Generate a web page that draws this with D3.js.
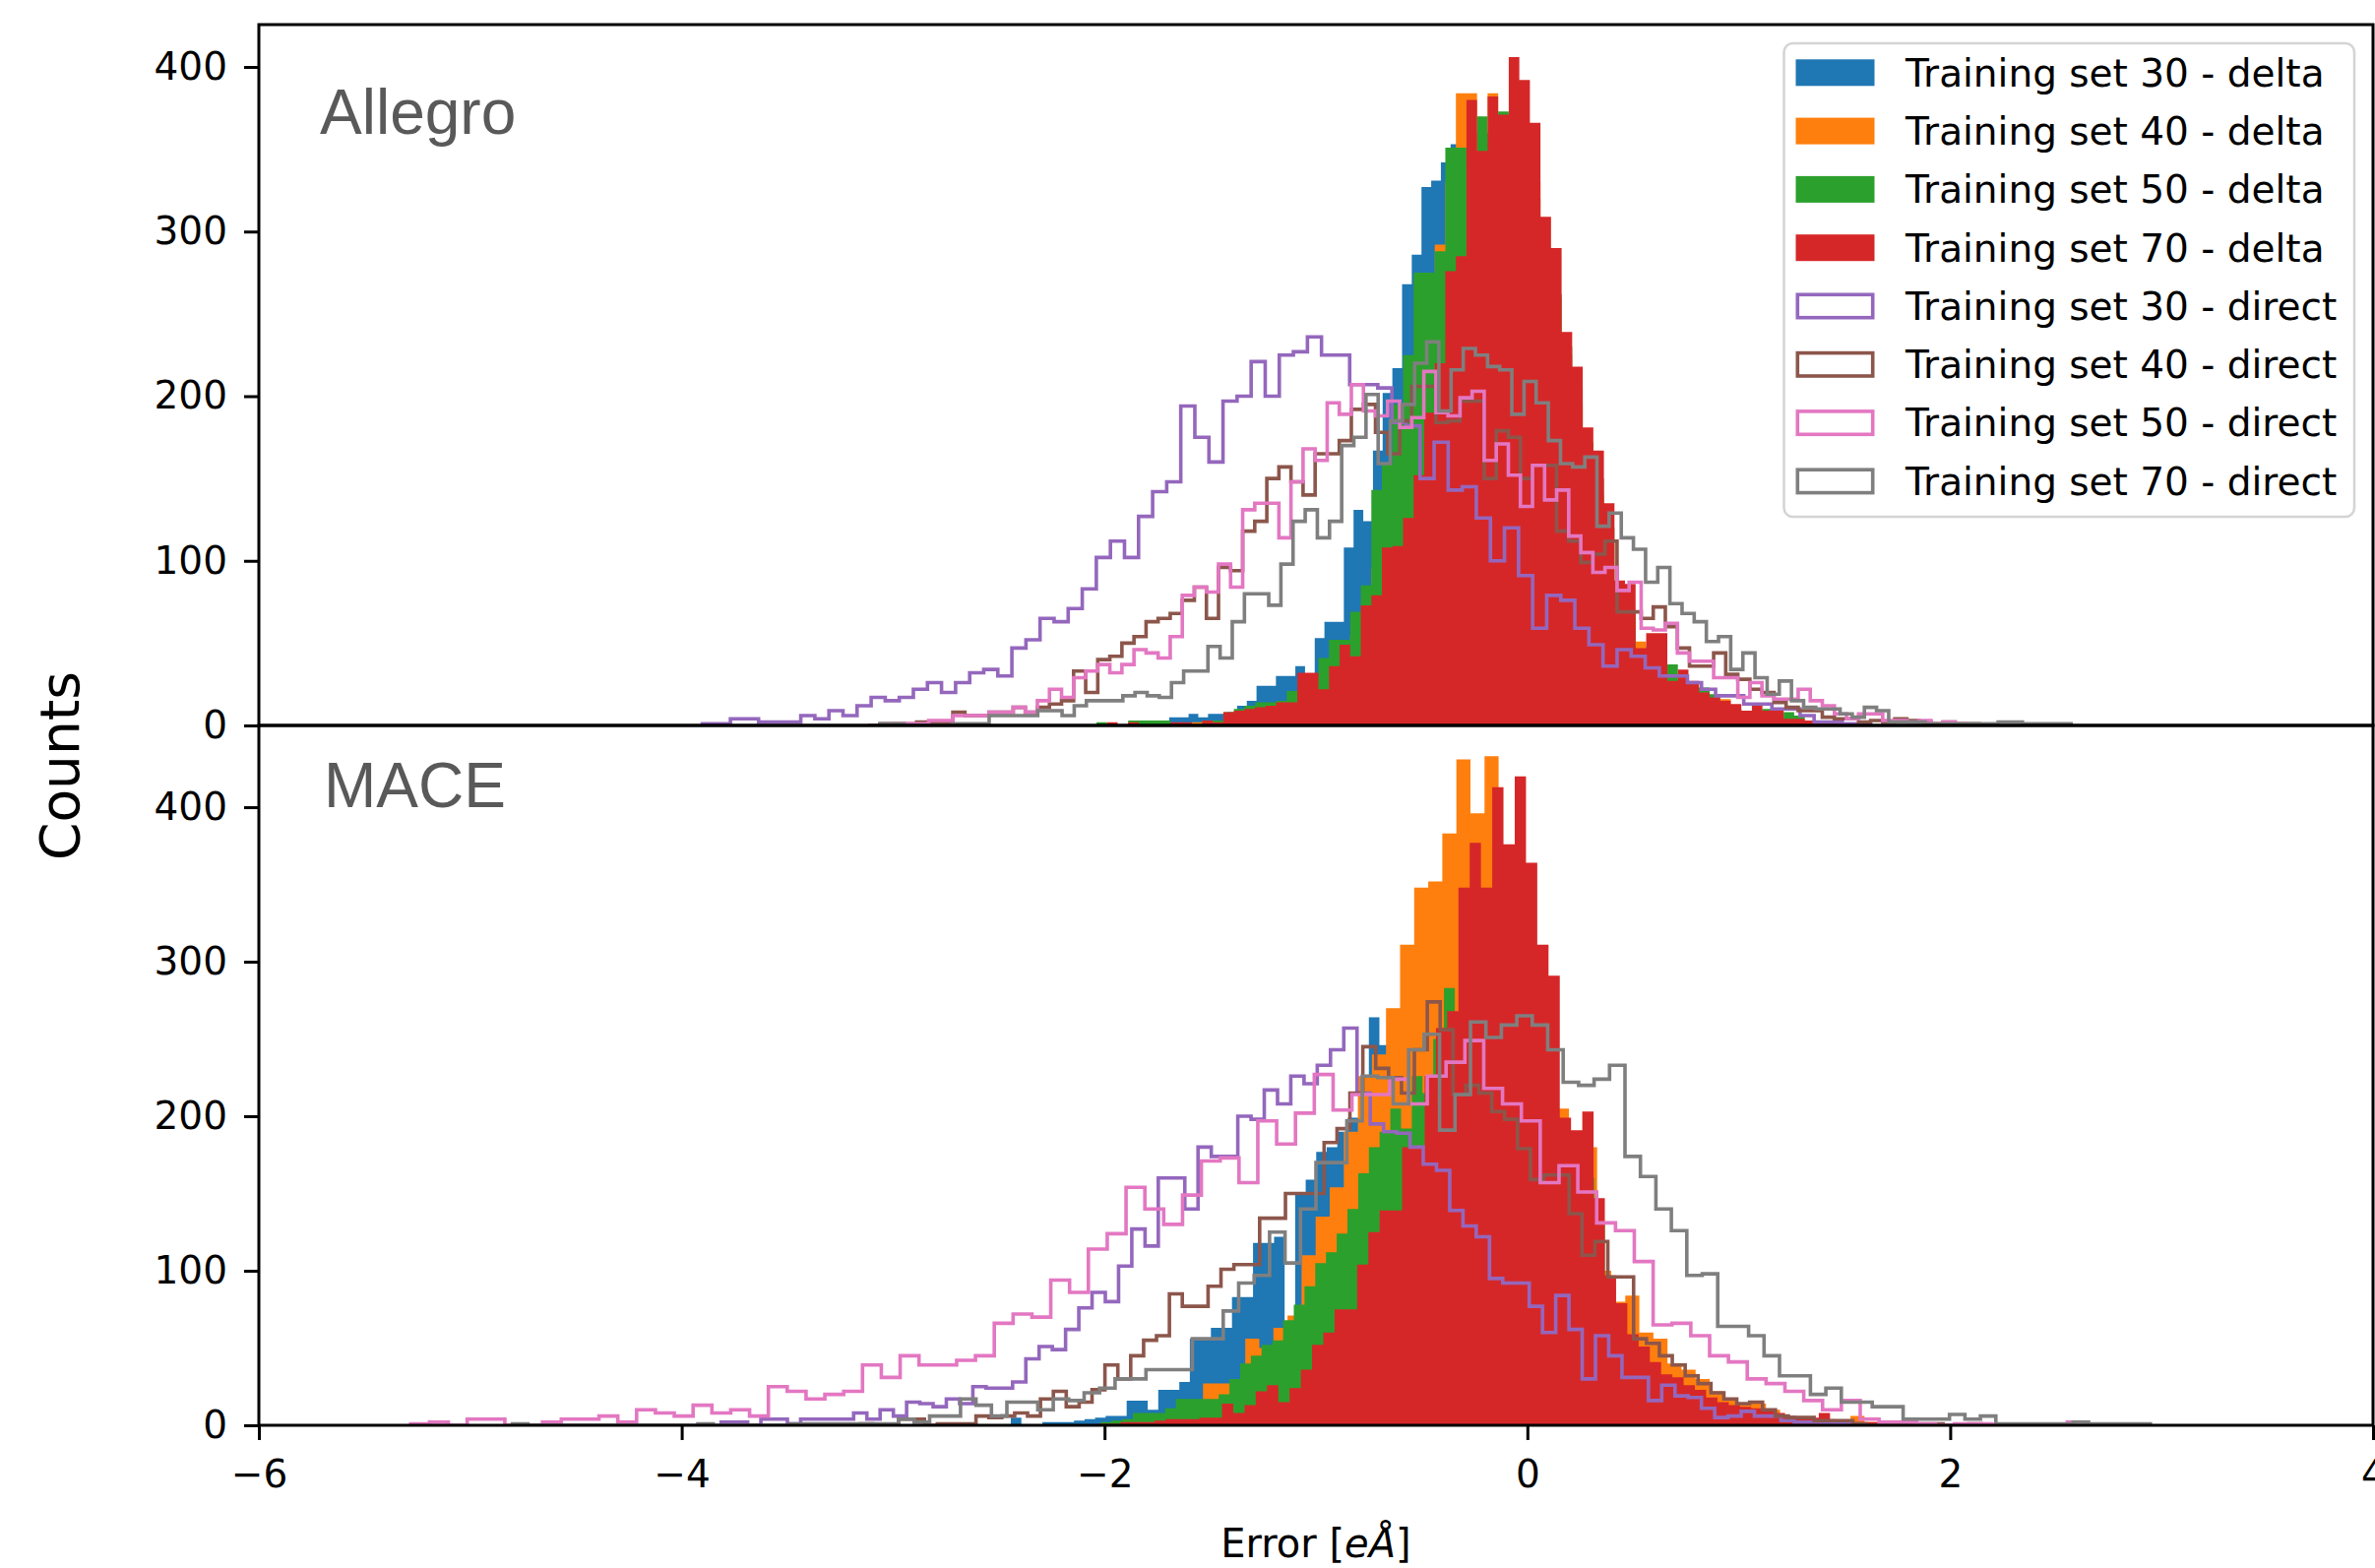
<!DOCTYPE html>
<html><head><meta charset="utf-8">
<script src="https://cdn.jsdelivr.net/npm/d3@7"></script>
<style>html,body{margin:0;padding:0;background:#fff} svg{display:block}</style>
</head><body>
<svg id="chart" width="2413" height="1593"></svg>
<script>
// ---------------- DATA ----------------
const seriesLabels = ["Training set 30 - delta","Training set 40 - delta","Training set 50 - delta","Training set 70 - delta",
  "Training set 30 - direct","Training set 40 - direct","Training set 50 - direct","Training set 70 - direct"];
const panelNames = ["Allegro", "MACE"];
const xTicks = [-6, -4, -2, 0, 2, 4];
const yTicks = [0, 100, 200, 300, 400];

// Allegro (top panel): bin start, bin width, counts
const allegroDelta30Start = -1.8319, allegroDelta30Width = 0.0459;
const allegroDelta30 = [1,0,2,5,5,7,5,7,7,8,12,15,24,24,30,30,36,30,53,63,63,108,131,124,167,202,217,268,286,327,331,342,353,350,345,330,315,295,270,245,215,190,165,140,118,98,80,64,52,42,34,27,21,17,13,10,8,6,5,4,3,2,2,1];
const allegroDelta40Start = -2.038, allegroDelta40Width = 0.05;
const allegroDelta40 = [0,0,0,0,0,0,0,0,0,2,3,3,6,8,9,10,11,12,14,20,25,30,38,45,55,65,95,120,150,180,215,250,292,330,384,384,360,384,360,370,350,330,290,260,225,195,165,140,110,80,65,51,45,40,30,25,22,18,14,16,10,8,7,6,10,4,3,3,2,2,1,0,0,0,0,0,0,0,0,0,0,0,0,0,1];
const allegroDelta50Start = -2.038, allegroDelta50Width = 0.05;
const allegroDelta50 = [2,0,0,3,3,3,3,0,0,0,2,3,8,10,12,14,14,15,21,28,30,41,52,52,69,85,143,159,195,225,275,275,288,351,351,340,370,360,373,360,345,320,290,262,230,205,172,150,120,85,70,45,48,40,37,28,25,23,19,12,10,8,7,10,5,8,6,2,1,2,0,0,1];
const allegroDelta70Start = -2.038, allegroDelta70Width = 0.05;
const allegroDelta70 = [0,2,0,2,0,0,0,2,2,0,3,2,8,9,10,11,12,14,14,32,32,22,36,49,42,73,79,108,109,126,152,190,220,276,285,380,349,382,371,406,392,366,309,290,239,218,181,167,135,88,86,47,56,56,27,34,27,20,17,15,13,9,13,9,9,4,4,3,2,2,1,1];
const allegroDirect30Start = -3.9027, allegroDirect30Width = 0.06657;
const allegroDirect30 = [1,1,4,4,2,2,2,6,4,9,6,12,17,15,17,22,26,20,26,32,34,30,47,52,65,63,71,83,102,112,102,127,142,148,194,175,160,197,200,221,200,225,227,236,225,225,207,207,205,184,182,150,172,143,145,126,100,120,91,59,79,76,59,49,36,46,42,35,30,30,26,22,18,18,13,13,10,10,6,2,2,1,1];
const allegroDirect40Start = -3.1173, allegroDirect40Width = 0.05712;
const allegroDirect40 = [0,1,1,1,2,2,2,8,6,6,8,8,11,8,11,13,15,33,20,40,42,50,54,63,65,68,76,84,65,96,94,118,124,150,157,148,140,165,165,173,192,195,178,165,185,206,206,184,185,197,197,150,179,175,150,158,158,118,112,99,104,112,69,69,65,72,60,47,36,36,44,31,28,22,20,14,11,9,9,5,4,4,2,3,2,4,3,2,1,2,1,1];
const allegroDirect50Start = -3.1173, allegroDirect50Width = 0.05712;
const allegroDirect50 = [0,0,1,1,1,3,3,6,6,6,8,8,11,8,15,22,17,29,33,37,32,37,46,44,41,54,79,84,81,98,84,131,135,135,114,148,168,161,196,189,207,191,188,197,181,187,215,190,188,199,203,161,171,152,133,158,137,143,115,105,93,96,82,87,59,58,62,44,39,39,29,29,17,26,18,16,16,22,15,12,7,4,7,7,3,3,2,3,1,2,1,0];
const allegroDirect70Start = -3.0633, allegroDirect70Width = 0.0575;
const allegroDirect70 = [1,1,0,0,0,0,1,1,1,6,6,6,6,9,9,6,12,15,15,15,18,20,18,17,26,33,33,48,41,63,80,80,73,98,124,131,114,124,170,175,201,159,185,195,220,233,191,216,229,225,218,216,189,209,196,173,159,157,163,121,129,114,107,87,96,74,68,63,51,54,34,44,29,19,27,15,11,10,10,7,5,11,9,2,2,2,1,1,1,1,1,1,2,2,1,1,1,1];

// MACE (bottom panel)
const maceDelta30Start = -2.4432, maceDelta30Width = 0.04981;
const maceDelta30 = [5,0,0,2,2,2,3,4,5,6,6,16,16,10,23,23,28,56,56,63,63,83,83,118,118,122,65,150,159,177,180,190,199,210,264,246,240,230,220,205,195,185,170,160,150,140,125,115,100,90,80,70,60,52,45,38,32,27,22,18,15,12,10,8,6,5,4,3,2,2,1,1,1,3,1];
const maceDelta40Start = -2.0, maceDelta40Width = 0.06657;
const maceDelta40 = [1,2,2,3,4,8,10,27,27,30,56,50,63,71,110,135,154,190,226,240,270,311,348,352,383,431,396,433,350,330,290,260,205,185,180,100,80,84,60,56,40,36,30,22,16,14,14,10,6,5,3,4,3,6,2,3,1,1];
const maceDelta50Start = -2.0181, maceDelta50Width = 0.05074;
const maceDelta50 = [2,3,4,8,8,8,11,17,17,17,17,20,30,40,45,52,55,68,78,90,105,112,124,140,163,180,190,205,192,226,215,250,283,260,290,300,320,330,325,315,300,270,195,185,175,160,130,90,70,55,45,35,30,25,20,17,14,12,10,9,8,7,5,4,3,3,2,2,1,1,1];
const maceDelta70Start = -2.0303, maceDelta70Width = 0.05326;
const maceDelta70 = [1,1,2,2,2,3,4,4,4,5,5,14,8,13,22,26,15,24,36,52,60,75,75,104,125,139,139,180,180,226,257,268,348,377,348,413,376,420,364,311,291,199,191,203,147,97,79,59,51,41,33,31,26,23,18,15,13,12,11,10,8,6,5,5,8,3,3,2,2,2,1,1,1];
const maceDirect30Start = -3.8134, maceDirect30Width = 0.06266;
const maceDirect30 = [2,2,0,4,4,1,4,4,4,4,8,4,10,6,15,14,12,17,14,25,24,24,28,43,51,49,62,76,86,80,103,127,116,160,160,140,180,174,174,200,198,217,208,226,221,233,243,257,215,195,190,189,180,169,165,139,129,122,95,92,92,77,60,84,62,30,58,45,31,31,16,26,19,18,11,5,6,9,6,6,3,2,2,1,1,1];
const maceDirect40Start = -3.1569, maceDirect40Width = 0.06099;
const maceDirect40 = [1,0,0,4,4,0,1,1,1,6,5,6,8,6,17,22,12,15,23,39,30,45,55,58,85,77,77,90,101,104,104,134,134,150,150,150,183,192,215,245,231,225,215,243,274,256,214,220,215,203,198,179,159,162,162,137,110,119,96,96,56,53,45,39,32,27,21,17,14,15,10,6,5,5,3,3,3,1,0,0,1,1,1,1,0,0,1];
const maceDirect50Start = -5.2817, maceDirect50Width = 0.08904;
const maceDirect50 = [1,2,0,4,4,0,0,2,4,4,6,2,10,8,6,13,8,10,6,25,22,17,20,22,39,31,45,39,39,42,45,66,72,70,94,86,114,124,154,140,130,149,171,173,157,197,182,202,227,204,214,214,224,208,226,235,249,218,208,197,157,168,151,131,126,106,65,66,58,45,41,30,27,22,16,10,16,4,2,2,1,0,1,1,0,0,0,0,2];
const maceDirect70Start = -4.8007, maceDirect70Width = 0.07309;
const maceDirect70 = [1,0,0,0,0,0,0,0,0,0,0,0,1,0,0,0,0,0,1,1,1,1,1,1,1,4,2,6,6,17,13,6,15,15,10,17,16,21,24,30,30,36,36,36,56,56,74,92,97,125,105,140,170,170,197,226,225,208,243,253,191,214,261,251,259,265,259,243,222,220,224,233,174,161,140,126,97,98,64,64,58,45,32,32,20,24,15,15,12,12,4,4,4,7,4,6,1,1,1,1,1,2,1,1,1,1];

// ---------------- STYLE ----------------
const colors = ["#1f77b4","#ff7f0e","#2ca02c","#d62728","#9467bd","#8c564b","#e377c2","#7f7f7f"];
const kinds = ["bar","bar","bar","bar","step","step","step","step"];
const FONT = "DejaVu Sans";

const panelSeries = [
  [[allegroDelta30Start,allegroDelta30Width,allegroDelta30],[allegroDelta40Start,allegroDelta40Width,allegroDelta40],
   [allegroDelta50Start,allegroDelta50Width,allegroDelta50],[allegroDelta70Start,allegroDelta70Width,allegroDelta70],
   [allegroDirect30Start,allegroDirect30Width,allegroDirect30],[allegroDirect40Start,allegroDirect40Width,allegroDirect40],
   [allegroDirect50Start,allegroDirect50Width,allegroDirect50],[allegroDirect70Start,allegroDirect70Width,allegroDirect70]],
  [[maceDelta30Start,maceDelta30Width,maceDelta30],[maceDelta40Start,maceDelta40Width,maceDelta40],
   [maceDelta50Start,maceDelta50Width,maceDelta50],[maceDelta70Start,maceDelta70Width,maceDelta70],
   [maceDirect30Start,maceDirect30Width,maceDirect30],[maceDirect40Start,maceDirect40Width,maceDirect40],
   [maceDirect50Start,maceDirect50Width,maceDirect50],[maceDirect70Start,maceDirect70Width,maceDirect70]]
];

const svg = d3.select("#chart");
const L = 263, R = 2411;
const x = d3.scaleLinear().domain([-6, 4]).range([L, R]);
const yScales = [
  d3.scaleLinear().domain([0, 425.7]).range([737, 25]),
  d3.scaleLinear().domain([0, 452.9]).range([1448, 737])
];

function bins(start, width, counts) {
  return counts.map((c, i) => ({ x0: start + i * width, x1: start + (i + 1) * width, c }));
}
function stepPath(b, y, close) {
  let d = `M${x(b[0].x0)},${y(0)}`;
  b.forEach(e => { d += `L${x(e.x0)},${y(e.c)}L${x(e.x1)},${y(e.c)}`; });
  d += `L${x(b[b.length - 1].x1)},${y(0)}`;
  if (close) d += "Z";
  return d;
}

const defs = svg.append("defs");
yScales.forEach((y, pi) => {
  const top = y.range()[1], bot = y.range()[0];
  defs.append("clipPath").attr("id", "clip" + pi)
    .append("rect").attr("x", L).attr("y", top).attr("width", R - L).attr("height", bot - top);

  const g = svg.append("g").attr("clip-path", `url(#clip${pi})`);
  panelSeries[pi].forEach((s, si) => {
    const b = bins(s[0], s[1], s[2]);
    if (kinds[si] === "bar") {
      g.append("path").attr("d", stepPath(b, y, true)).attr("fill", colors[si]).attr("stroke", "none");
    } else {
      g.append("path").attr("d", stepPath(b, y, false)).attr("fill", "none")
        .attr("stroke", colors[si]).attr("stroke-width", 3.6).attr("stroke-linejoin", "miter");
    }
  });

  // y axis
  const ga = svg.append("g").attr("transform", `translate(${L},0)`)
    .call(d3.axisLeft(y).tickValues(yTicks).tickSize(15).tickPadding(17).tickFormat(d3.format("d")));
  ga.select(".domain").remove();
  ga.attr("font-size", 39).attr("font-family", FONT);
  ga.selectAll("line").attr("stroke", "#000").attr("stroke-width", 3);
  ga.selectAll("text").attr("fill", "#000");

  // spines
  svg.append("rect").attr("x", L).attr("y", top).attr("width", R - L).attr("height", bot - top)
    .attr("fill", "none").attr("stroke", "#000").attr("stroke-width", 3);

  // panel label
  svg.append("text").attr("x", pi === 0 ? 325 : 329).attr("y", pi === 0 ? 136 : 820)
    .attr("font-family", "Liberation Sans, Arial, sans-serif").attr("font-size", 64)
    .attr("fill", "#595959").text(panelNames[pi]);
});

// x axis (bottom)
const gx = svg.append("g").attr("transform", `translate(0,1448)`)
  .call(d3.axisBottom(x).tickValues(xTicks).tickSize(15).tickPadding(20).tickFormat(d3.format("d")));
gx.select(".domain").remove();
gx.attr("font-size", 39).attr("font-family", FONT);
gx.selectAll("line").attr("stroke", "#000").attr("stroke-width", 3);
gx.selectAll("text").attr("fill", "#000");

// axis titles
svg.append("text").attr("transform", "translate(80,778) rotate(-90)").attr("text-anchor", "middle")
  .attr("font-family", FONT).attr("font-size", 55).attr("fill", "#000").text("Counts");
const xl = svg.append("text").attr("x", (L + R) / 2).attr("y", 1582).attr("text-anchor", "middle")
  .attr("font-family", FONT).attr("font-size", 40).attr("fill", "#000");
xl.append("tspan").text("Error [");
xl.append("tspan").attr("font-style", "italic").text("eÅ");
xl.append("tspan").text("]");

// legend
const lg = svg.append("g");
lg.append("rect").attr("x", 1812.5).attr("y", 44).attr("width", 579.5).attr("height", 481).attr("rx", 9)
  .attr("fill", "#fff").attr("fill-opacity", 0.85).attr("stroke", "#d4d4d4").attr("stroke-width", 2.5);
seriesLabels.forEach((lab, i) => {
  const cy = 73.8 + 59.3 * i;
  if (kinds[i] === "bar") {
    lg.append("rect").attr("x", 1824.5).attr("y", cy - 13.5).attr("width", 80).attr("height", 27).attr("fill", colors[i]);
  } else {
    lg.append("rect").attr("x", 1826.3).attr("y", cy - 11.7).attr("width", 76.4).attr("height", 23.4)
      .attr("fill", "#fff").attr("stroke", colors[i]).attr("stroke-width", 3.6);
  }
  lg.append("text").attr("x", 1936).attr("y", cy + 13.8).attr("font-family", FONT).attr("font-size", 39)
    .attr("fill", "#000").text(lab);
});
</script>
</body></html>
